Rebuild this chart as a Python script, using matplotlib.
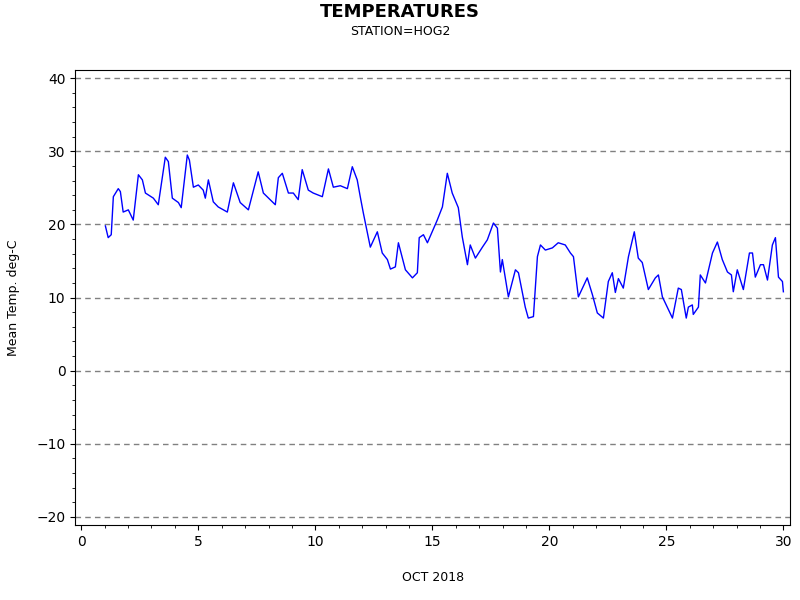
import matplotlib
matplotlib.use('Agg')
import matplotlib.pyplot as plt
from matplotlib.ticker import MultipleLocator

# day of month (fractional) and mean temperature
days = [1.03, 1.15, 1.28, 1.37, 1.58, 1.67, 1.79, 2.01, 2.22, 2.44, 2.61, 2.74, 3.08, 3.29,
        3.59, 3.72, 3.89, 4.15, 4.27, 4.53, 4.62, 4.79, 5.00, 5.21, 5.30, 5.43, 5.64, 5.85,
        6.24, 6.50, 6.79, 7.14, 7.56, 7.78, 8.29, 8.42, 8.59, 8.85, 9.06, 9.27, 9.44, 9.70,
        9.91, 10.30, 10.56, 10.77, 11.07, 11.37, 11.58, 11.79, 11.92, 12.05, 12.35, 12.65,
        12.86, 13.08, 13.21, 13.42, 13.55, 13.85, 14.15, 14.36, 14.44, 14.62, 14.79, 15.21,
        15.43, 15.64, 15.85, 16.11, 16.28, 16.50, 16.62, 16.84, 17.14, 17.35, 17.61, 17.78,
        17.91, 17.99, 18.25, 18.55, 18.68, 18.97, 19.10, 19.32, 19.49, 19.62, 19.83, 20.13,
        20.38, 20.68, 20.90, 21.03, 21.24, 21.62, 21.84, 22.05, 22.31, 22.52, 22.69, 22.82,
        22.95, 23.16, 23.38, 23.63, 23.80, 23.97, 24.23, 24.53, 24.66, 24.83, 25.26, 25.51,
        25.64, 25.85, 25.94, 26.11, 26.15, 26.37, 26.45, 26.67, 26.97, 27.18, 27.39, 27.61,
        27.78, 27.86, 28.03, 28.29, 28.55, 28.68, 28.80, 29.02, 29.15, 29.32, 29.53, 29.66,
        29.79, 29.96, 30.00]
temps = [19.8, 18.2, 18.6, 23.8, 24.9, 24.5, 21.7, 22.0, 20.6, 26.8, 26.1, 24.3, 23.6, 22.7,
         29.2, 28.6, 23.6, 23.0, 22.3, 29.5, 28.8, 25.1, 25.4, 24.7, 23.6, 26.1, 23.1, 22.4,
         21.7, 25.7, 23.0, 22.0, 27.2, 24.3, 22.7, 26.4, 27.0, 24.3, 24.3, 23.4, 27.5, 24.7,
         24.3, 23.8, 27.6, 25.1, 25.3, 24.9, 27.9, 26.1, 23.8, 21.6, 16.9, 19.0,
         16.1, 15.2, 13.9, 14.2, 17.5, 13.8, 12.7, 13.4, 18.2, 18.6, 17.5, 20.6,
         22.4, 27.0, 24.3, 22.3, 18.3, 14.5, 17.2, 15.4, 16.9, 17.9, 20.2, 19.5,
         13.5, 15.2, 10.1, 13.8, 13.4, 8.7, 7.2, 7.4, 15.6, 17.2, 16.5, 16.8,
         17.5, 17.2, 16.1, 15.6, 10.1, 12.7, 10.4, 7.9, 7.2, 12.2, 13.4, 10.7,
         12.6, 11.3, 15.6, 19.0, 15.4, 14.8, 11.1, 12.7, 13.1, 10.1, 7.2, 11.3,
         11.1, 7.2, 8.7, 9.0, 7.7, 8.7, 13.1, 12.0, 16.1, 17.6, 15.2, 13.5,
         13.1, 10.8, 13.8, 11.1, 16.1, 16.1, 12.8, 14.5, 14.5, 12.4, 17.2, 18.2,
         12.8, 12.2, 10.8]

fig = plt.figure(figsize=(8, 6), dpi=100)
ax = fig.add_axes([0.094, 0.125, 0.894, 0.758])

ax.plot(days, temps, color='blue', linewidth=1)

ax.set_xlim(-0.26, 30.3)
ax.set_ylim(-21.1, 41.1)
ax.xaxis.set_major_locator(MultipleLocator(5))
ax.xaxis.set_minor_locator(MultipleLocator(1))
ax.yaxis.set_major_locator(MultipleLocator(10))
ax.yaxis.set_minor_locator(MultipleLocator(2))
ax.tick_params(labelsize=10)
ax.yaxis.grid(True, linestyle=(0, (4, 3)), color='gray', linewidth=1)

ax.set_ylabel('Mean Temp. deg-C', fontsize=9, labelpad=12)
ax.set_xlabel('OCT 2018', fontsize=9, labelpad=16)

fig.text(0.5, 0.98, 'TEMPERATURES', ha='center', va='center', fontsize=13, fontweight='bold')
fig.text(0.5, 0.948, 'STATION=HOG2', ha='center', va='center', fontsize=9)

fig.savefig('out.png')
